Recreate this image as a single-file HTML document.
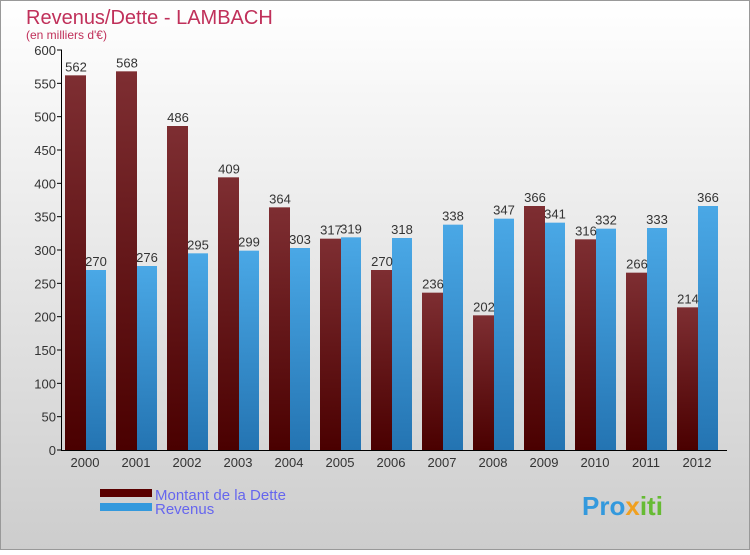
<!DOCTYPE html>
<html><head><meta charset="utf-8"><style>
body{margin:0;width:750px;height:550px;overflow:hidden;font-family:"Liberation Sans",sans-serif}
</style></head><body>
<svg id="c" width="750" height="550" xmlns="http://www.w3.org/2000/svg">
<defs>
<linearGradient id="bg" x1="0" y1="0" x2="0" y2="1"><stop offset="0" stop-color="#ffffff"/><stop offset="1" stop-color="#cdcdcd"/></linearGradient>
<linearGradient id="gd" x1="0" y1="0" x2="0" y2="1"><stop offset="0" stop-color="#7e2e32"/><stop offset="1" stop-color="#4a0000"/></linearGradient>
<linearGradient id="gr" x1="0" y1="0" x2="0" y2="1"><stop offset="0" stop-color="#4aa8e6"/><stop offset="1" stop-color="#2474b2"/></linearGradient>
</defs>
<rect x="0.5" y="0.5" width="749" height="549" fill="url(#bg)" stroke="#999"/>
<text x="26" y="24" font-size="20" fill="#c0305a">Revenus/Dette - LAMBACH</text>
<text x="26" y="39" font-size="12" fill="#c0305a">(en milliers d'€)</text>
<g id="plot"></g>
<rect x="100" y="489" width="52" height="8" fill="#5a0000"/>
<rect x="100" y="503" width="52" height="8" fill="#3399dd"/>
<text x="155" y="500" font-size="15" fill="#6666ee">Montant de la Dette</text>
<text x="155" y="514" font-size="15" fill="#6666ee">Revenus</text>
<text x="582" y="515" font-size="26" font-weight="bold" fill="#3399dd">Pro<tspan fill="#f0a020">x</tspan><tspan fill="#66bb33">iti</tspan></text>
</svg>
<script>
const years=["2000","2001","2002","2003","2004","2005","2006","2007","2008","2009","2010","2011","2012"];
const dette=[562,568,486,409,364,317,270,236,202,366,316,266,214];
const revenus=[270,276,295,299,303,319,318,338,347,341,332,333,366];
const yTicks=[0,50,100,150,200,250,300,350,400,450,500,550,600];
const NS="http://www.w3.org/2000/svg";
const g=document.getElementById('plot');
const y=v=>450-v*400/600;
const xc=i=>85+51*i;
function mk(t,a){const e=document.createElementNS(NS,t);for(const k in a)e.setAttribute(k,a[k]);g.appendChild(e);return e;}
yTicks.forEach(t=>{
 const l=mk('line',{x1:57,x2:62,y1:y(t),y2:y(t),stroke:'#000'});
 
 
 const tx=mk('text',{x:56,y:y(t)+5,'font-size':13,fill:'#333','text-anchor':'end'});tx.textContent=t;
 
 
});
years.forEach((yr,i)=>{
 const c=xc(i);
 const d=mk('rect',{x:c-20,y:y(dette[i]),width:21,height:450-y(dette[i]),fill:'url(#gd)'});
 
 
 const r=mk('rect',{x:c+1,y:y(revenus[i]),width:20,height:450-y(revenus[i]),fill:'url(#gr)'});
 
 
 const t1=mk('text',{x:c-9,y:y(dette[i])-4,'font-size':13,fill:'#333','text-anchor':'middle'});t1.textContent=dette[i];
 
 
 const t2=mk('text',{x:c+11,y:y(revenus[i])-4,'font-size':13,fill:'#333','text-anchor':'middle'});t2.textContent=revenus[i];
 
 
 const xl=mk('text',{x:c,y:467,'font-size':13,fill:'#333','text-anchor':'middle'});xl.textContent=yr;
 
 
});
const ax=mk('line',{x1:61.5,x2:61.5,y1:50,y2:450,stroke:'#000'});


const bx=mk('line',{x1:61,x2:727,y1:450.5,y2:450.5,stroke:'#000'});


</script>
</body></html>
